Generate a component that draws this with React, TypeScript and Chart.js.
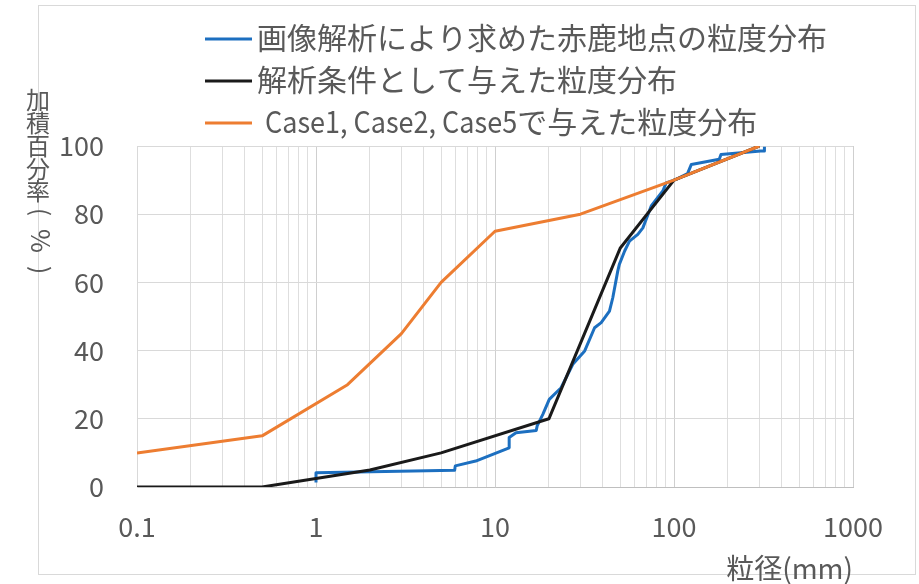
import React, { useEffect, useRef } from 'react';
import { Chart, registerables } from 'chart.js';

Chart.register(...registerables);

// Grain-size distribution measured by image analysis (mm, cumulative %)
const blueSize = [1.0, 1.0, 5.95, 6.0, 7.8, 12.0, 12.0, 13.1, 17.0, 17.2, 18.5, 20.1, 23.4, 27.2, 31.7, 36, 39.2, 43.6, 45.5, 48.5, 49.5, 53, 56.4, 62.8, 67, 74.6, 86.6, 90.4, 102.8, 119, 125, 179, 183, 305, 320, 320];
const bluePct = [1.3, 4.2, 4.9, 6.2, 7.6, 11.5, 14.5, 15.9, 16.6, 17.9, 21.3, 25.7, 29.1, 36, 39.9, 46.7, 48.2, 51.6, 55.5, 63.3, 65.3, 69.2, 72.1, 74.1, 76, 82.4, 86.8, 89.2, 90.2, 91.9, 94.6, 96.1, 97.5, 98.5, 98.5, 99.8];

// Distribution given as the analysis condition
const blackSize = [0.1, 0.5, 2, 5, 20, 50, 100, 300];
const blackPct = [0, 0, 5, 10, 20, 70, 90, 100];

// Distribution given for Case1, Case2, Case5
const orangeSize = [0.1, 0.5, 1.5, 3, 5, 10, 30, 100, 300];
const orangePct = [10, 15, 30, 45, 60, 75, 80, 90, 100];

const seriesLabels = [
  '画像解析により求めた赤鹿地点の粒度分布',
  '解析条件として与えた粒度分布',
  ' Case1, Case2, Case5で与えた粒度分布',
];
const seriesColors = ['#1c6fc0', '#1a1a1a', '#ed7d31'];

const xTickLabels = ['0.1', '1', '10', '100', '1000'];
const yTickValues = [0, 20, 40, 60, 80, 100];
const yTitleChars = ['加', '積', '百', '分', '率'];
const yTitleUnit = '(%)';
const xTitle = '粒径(mm)';

const FONT = '"Noto Sans CJK JP", "Noto Sans", sans-serif';
const TEXT = '#595959';

const toPoints = (xs: number[], ys: number[]) => xs.map((x, i) => ({ x, y: ys[i] }));

// tick positions: 1..9 within each decade, plus the last decade boundary
const logTicks = (): number[] => {
  const out: number[] = [];
  for (let e = -1; e <= 2; e++) {
    for (let m = 1; m <= 9; m++) {
      out.push(e < 0 ? m / Math.pow(10, -e) : m * Math.pow(10, e));
    }
  }
  out.push(1000);
  return out;
};

const isLabelled = (v: number) => xTickLabels.some((l) => Math.abs(Number(l) - v) < 1e-9);

// draws a legend label; the latin run is set a little condensed like the CJK UI font
const drawLegendText = (ctx: CanvasRenderingContext2D, text: string, x: number, y: number) => {
  const m = text.match(/^(\s*[\x20-\x7e]+?)([^\x20-\x7e].*)$/);
  if (!m || !/[A-Za-z]/.test(m[1])) {
    ctx.fillText(text, x, y);
    return;
  }
  const latin = m[1].trimStart();
  const rest = m[2];
  const lead = m[1].length - latin.length;
  const startX = x + lead * 8;
  const w = ctx.measureText(latin).width;
  const sx = 0.9;
  ctx.save();
  ctx.translate(startX, y);
  ctx.scale(sx, 1);
  ctx.fillText(latin, 0, 0);
  ctx.restore();
  ctx.fillText(rest, startX + w * sx, y);
};

const decorPlugin = {
  id: 'decor',
  beforeDraw(chart: any) {
    const ctx = chart.ctx as CanvasRenderingContext2D;
    ctx.save();
    ctx.fillStyle = '#ffffff';
    ctx.fillRect(0, 0, chart.width, chart.height);
    ctx.strokeStyle = '#d9d9d9';
    ctx.lineWidth = 1;
    ctx.strokeRect(38.5, 5.5, 877, 569);
    ctx.restore();
  },
  afterDraw(chart: any) {
    const ctx = chart.ctx as CanvasRenderingContext2D;
    ctx.save();
    // legend
    const rowY = [39, 81, 123];
    seriesLabels.forEach((label, i) => {
      ctx.strokeStyle = seriesColors[i];
      ctx.lineWidth = 3;
      ctx.beginPath();
      ctx.moveTo(205, rowY[i]);
      ctx.lineTo(252, rowY[i]);
      ctx.stroke();
      ctx.fillStyle = TEXT;
      ctx.font = `30px ${FONT}`;
      ctx.textAlign = 'left';
      ctx.textBaseline = 'middle';
      drawLegendText(ctx, label, 257, rowY[i] - 1);
    });

    // vertical axis title: CJK upright, the unit turned sideways
    ctx.font = `24px ${FONT}`;
    ctx.fillStyle = TEXT;
    ctx.textAlign = 'center';
    ctx.textBaseline = 'middle';
    yTitleChars.forEach((ch, i) => {
      ctx.fillText(ch, 38, 100 + i * 22.8);
    });
    const unitY = [212, 241, 270];
    yTitleUnit.split('').forEach((ch, i) => {
      ctx.save();
      ctx.translate(41, unitY[i]);
      ctx.rotate(Math.PI / 2);
      ctx.font = `${ch === '%' ? 26 : 24}px ${FONT}`;
      ctx.fillText(ch, 0, 0);
      ctx.restore();
    });

    // horizontal axis title
    ctx.font = `28px ${FONT}`;
    ctx.textAlign = 'right';
    ctx.textBaseline = 'middle';
    ctx.fillText(xTitle, 853, 568);
    ctx.restore();
  },
};

export default function App() {
  const canvasRef = useRef<HTMLCanvasElement | null>(null);

  useEffect(() => {
    if (!canvasRef.current) return;
    const chart = new Chart(canvasRef.current, {
      type: 'line',
      data: {
        datasets: [
          {
            label: seriesLabels[2],
            data: toPoints(orangeSize, orangePct),
            borderColor: seriesColors[2],
            borderWidth: 3,
          },
          {
            label: seriesLabels[1],
            data: toPoints(blackSize, blackPct),
            borderColor: seriesColors[1],
            borderWidth: 3,
          },
          {
            label: seriesLabels[0],
            data: toPoints(blueSize, bluePct),
            borderColor: seriesColors[0],
            borderWidth: 3,
          },
        ],
      },
      options: {
        responsive: false,
        animation: false,
        devicePixelRatio: 1,
        parsing: false as any,
        elements: {
          point: { radius: 0, hoverRadius: 0 },
          line: { tension: 0, borderJoinStyle: 'round', borderCapStyle: 'butt', fill: false },
        },
        layout: { padding: { top: 146, right: 66, bottom: 0, left: 0 } },
        plugins: {
          legend: { display: false },
          tooltip: { enabled: false },
        },
        scales: {
          x: {
            type: 'logarithmic',
            min: 0.1,
            max: 1000,
            afterFit: (s: any) => {
              s.height = 97;
            },
            afterBuildTicks: (s: any) => {
              s.ticks = logTicks().map((value) => ({ value }));
            },
            ticks: {
              autoSkip: false,
              maxRotation: 0,
              padding: 24,
              color: TEXT,
              font: { family: FONT, size: 27 },
              callback: (v: any) => {
                const n = Number(v);
                const l = xTickLabels.find((t) => Math.abs(Number(t) - n) < 1e-9);
                return l ?? '';
              },
            },
            grid: {
              drawTicks: false,
              color: (c: any) => (c.tick && isLabelled(c.tick.value) ? '#cfcfcf' : '#dedede'),
              lineWidth: 1,
            },
            border: { color: '#bfbfbf', width: 1 },
          },
          y: {
            type: 'linear',
            min: 0,
            max: 100,
            afterFit: (s: any) => {
              s.width = 137;
            },
            afterBuildTicks: (s: any) => {
              s.ticks = yTickValues.map((value) => ({ value }));
            },
            ticks: {
              padding: 33,
              color: TEXT,
              font: { family: FONT, size: 27 },
            },
            grid: { drawTicks: false, color: '#d9d9d9', lineWidth: 1 },
            border: { color: '#d9d9d9', width: 1 },
          },
        },
      },
      plugins: [decorPlugin],
    });
    return () => chart.destroy();
  }, []);

  return (
    <div
      style={{
        position: 'fixed',
        left: 0,
        top: 0,
        width: 919,
        height: 584,
        background: '#ffffff',
      }}
    >
      <canvas ref={canvasRef} width={919} height={584} style={{ display: 'block' }} />
    </div>
  );
}
